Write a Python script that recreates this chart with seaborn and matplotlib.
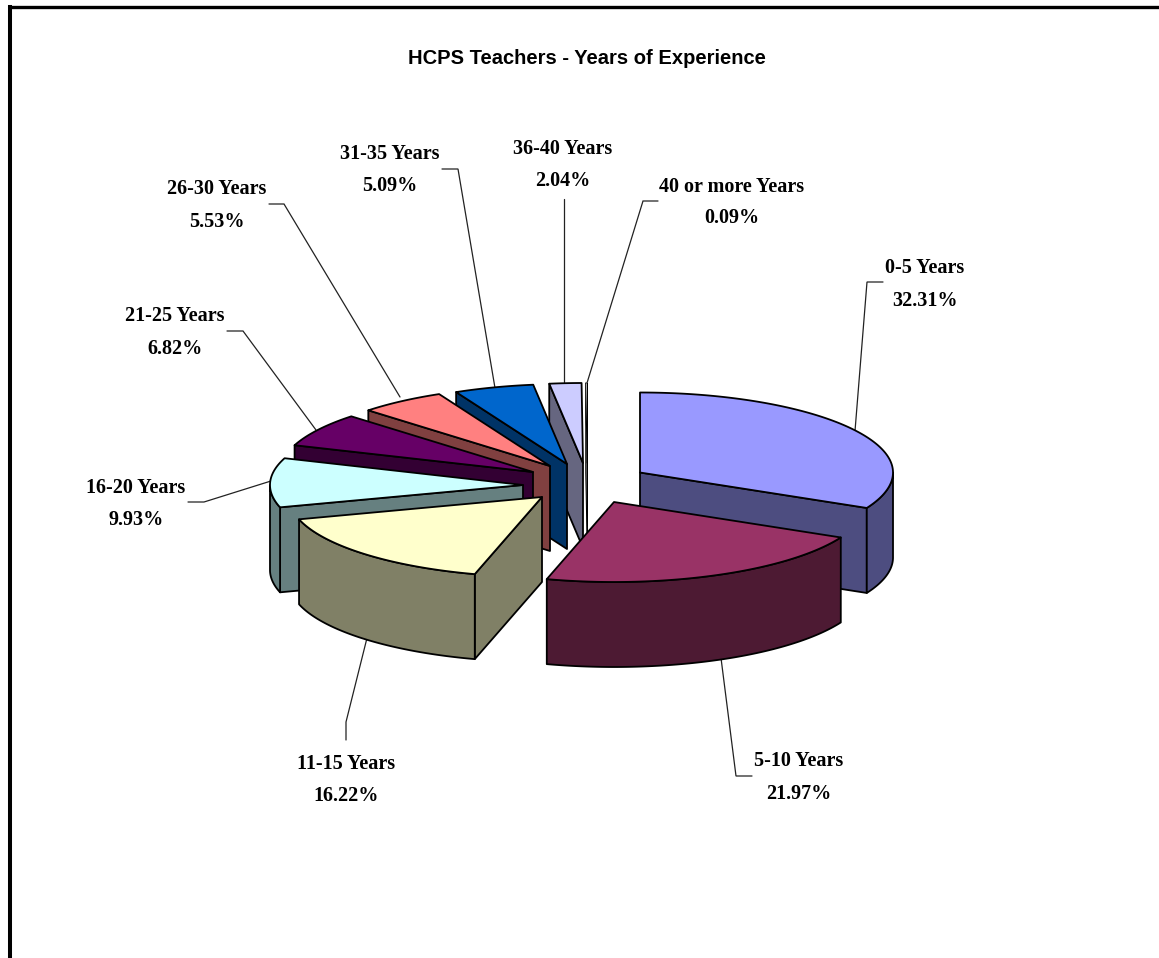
import numpy as np
import matplotlib
matplotlib.use("Agg")
import matplotlib.pyplot as plt
from matplotlib.patches import Polygon
import seaborn as sns

title = "HCPS Teachers - Years of Experience"
categories = ["0-5 Years", "5-10 Years", "11-15 Years", "16-20 Years", "21-25 Years",
              "26-30 Years", "31-35 Years", "36-40 Years", "40 or more Years"]
values = [32.31, 21.97, 16.22, 9.93, 6.82, 5.53, 5.09, 2.04, 0.09]
top_colors = ["#9999FF", "#993366", "#FFFFCC", "#CCFFFF", "#660066",
              "#FF8080", "#0066CC", "#CCCCFF", "#FFFFFF"]

# pie apex of each exploded slice, in image pixels
apex_x = [640, 614, 542, 523, 533, 550, 567, 583, 587]
apex_y = [472.5, 502, 497, 485, 472, 466, 464, 463, 463]
edge_widths = [1.3, 1.3, 1.3, 1.3, 1.3, 1.3, 1.3, 1.3, 0.5]
RX, RY, DEPTH = 253, 80, 85
draw_order = [8, 7, 6, 5, 4, 3, 0, 2, 1]

# label centres and leader-line vertices, in image pixels
label_x = [925, 799, 346, 136, 175, 217, 390, 563, 732]
label_y1 = [268, 761, 764, 488, 316, 189, 154, 149, 187]
label_y2 = [301, 794, 796, 520, 349, 222, 186, 181, 218]
leader_x = [[883, 867, 855], [752, 736, 721], [346, 346, 367], [188, 204, 271], [227, 243, 316],
            [269, 284, 400], [442, 458, 495], [564, 564], [658, 643, 587]]
leader_y = [[282, 282, 431], [776, 776, 658], [740, 722, 638], [502, 502, 481], [331, 331, 430],
            [204, 204, 397], [169, 169, 388], [199, 382], [201, 201, 383]]

sns.set_theme(style="white")
plt.rcParams["font.family"] = ["Liberation Serif", "DejaVu Sans"]
palette = sns.color_palette(top_colors)
side_colors = [tuple(c * 0.5 for c in rgb) for rgb in palette]

fig = plt.figure(figsize=(11.59, 9.58), dpi=100, facecolor="white")
ax = fig.add_axes([0, 0, 1, 1])
ax.set_xlim(0, 1159)
ax.set_ylim(958, 0)
ax.axis("off")

# chart frame: only the top and left edges fall inside the picture
ax.plot([10, 10], [958, 6.5], color="black", lw=2.9, solid_capstyle="projecting")
ax.plot([10, 1159], [6.5, 6.5], color="black", lw=2.4, solid_capstyle="butt")

angles = np.concatenate([[0], np.cumsum(values) / sum(values) * 360])


def arc(i, a, b):
    t = np.radians(np.linspace(a, b, max(int(abs(b - a) * 2), 2)))
    return np.column_stack([apex_x[i] + RX * np.sin(t), apex_y[i] - RY * np.cos(t)])


def face(points, color, z, lw):
    ax.add_patch(Polygon(points, closed=True, facecolor=color, edgecolor="black",
                         lw=lw, joinstyle="round", zorder=z))


z = 2
for i in draw_order:
    a, b = angles[i], angles[i + 1]
    lw = edge_widths[i]
    centre = np.array([[apex_x[i], apex_y[i]]])
    down = np.array([0, DEPTH])
    # radial side faces turned towards the viewer
    for ang in (a, b):
        visible = np.sin(np.radians(ang)) < 0 if ang == a else np.sin(np.radians(ang)) > 0
        if visible:
            rim = arc(i, ang, ang + 0.01)[:1]
            face(np.vstack([centre, rim, rim + down, centre + down]), side_colors[i], z, lw)
            z += 1
    # outer wall on the near half of the ellipse
    lo, hi = max(a, 90), min(b, 270)
    if hi > lo:
        rim = arc(i, lo, hi)
        face(np.vstack([rim, (rim + down)[::-1]]), side_colors[i], z, lw)
        z += 1
    # top face
    face(np.vstack([centre, arc(i, a, b)]), palette[i], z, lw)
    z += 1

for i, name in enumerate(categories):
    ax.plot(leader_x[i], leader_y[i], color="#222222", lw=0.9, zorder=1, solid_joinstyle="miter")
    ax.text(label_x[i], label_y1[i], name, ha="center", va="center", fontsize=14.5,
            fontweight="bold", color="black")
    ax.text(label_x[i], label_y2[i], f"{values[i]:.2f}%", ha="center", va="center",
            fontsize=14.5, fontweight="bold", color="black")

ax.text(587, 58, title, ha="center", va="center", fontsize=14.5, fontweight="bold",
        family=["Liberation Sans", "DejaVu Sans"], color="black")

fig.savefig("out.png", dpi=100, facecolor="white")
